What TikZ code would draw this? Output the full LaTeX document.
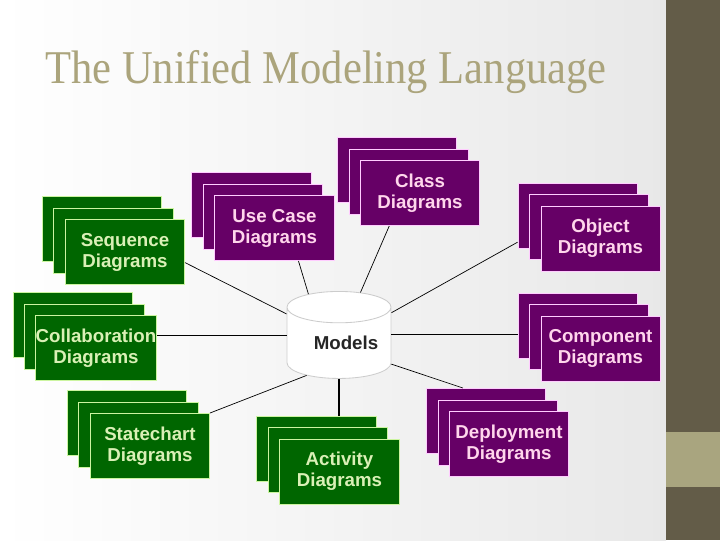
\documentclass[tikz,border=0pt]{standalone}
\usepackage{fontspec,graphicx}
\setmainfont{Liberation Serif}
\setsansfont{Liberation Sans}
\usetikzlibrary{shapes.geometric}
\definecolor{gc}{RGB}{0,102,0}
\definecolor{gl}{RGB}{204,245,160}
\definecolor{gt}{RGB}{218,240,182}
\definecolor{pc}{RGB}{102,0,102}
\definecolor{pl}{RGB}{255,204,255}
\definecolor{pt}{RGB}{255,214,236}
\definecolor{side}{RGB}{99,92,72}
\definecolor{band}{RGB}{169,165,127}
\definecolor{tc}{RGB}{171,164,124}
\tikzset{dbox/.style={draw,line width=.7pt,minimum width=2.975cm,minimum height=1.625cm,inner sep=0pt,align=center,
   font=\sffamily\bfseries\fontsize{13.3}{14.9}\selectfont},
 gbox/.style={dbox,fill=gc,draw=gl,text=gt},pbox/.style={dbox,fill=pc,draw=pl,text=pt},
 db/.style={cylinder,shape border rotate=90,aspect=.4,draw=black!20,fill=white,line width=.6pt,
   minimum width=2.6cm,minimum height=2.175cm,inner sep=0pt,font=\sffamily\bfseries\fontsize{13.3}{14.9}\selectfont,text=black!85},
 link/.style={line width=.5pt}}
\begin{document}
\begin{tikzpicture}[x=0.025cm,y=-0.025cm]
\useasboundingbox (0,0) rectangle (720,540);
\shade[left color=white,right color=black!9] (0,0) rectangle (666,540);
\fill[side] (666,0) rectangle (720,540);\fill[band] (666,432) rectangle (720,487);
\node[anchor=base west,inner sep=0pt,text=tc,font=\fontsize{33.4}{36}\selectfont] (title) at (45,83) {\scalebox{.906}[1]{The Unified Modeling Language}};
% diagram stacks
\foreach \n/\x/\y/\s/\t in {seq/125/252/gbox/{Sequence\\Diagrams},usecase/274.5/228/pbox/{Use Case\\Diagrams},
  class/420/193/pbox/{Class\\Diagrams},object/600.5/238.5/pbox/{Object\\Diagrams},collab/96/348/gbox/{Collaboration\\Diagrams},
  comp/600.5/348.5/pbox/{Component\\Diagrams},state/150/446/gbox/{Statechart\\Diagrams},act/339.5/471.5/gbox/{Activity\\Diagrams},
  dep/509/444/pbox/{Deployment\\Diagrams}}{
  \node[\s] (\n2) at (\x-23,\y-23) {};
  \node[\s] (\n1) at (\x-11.5,\y-11.5) {};
  \node[\s] (\n) at (\x,\y) {\t};}
\node[db] (models) at (339,343) {\hspace*{.35cm}Models};
\coordinate (mw) at ([yshift=.2cm]models.west);\coordinate (me) at ([yshift=.22cm]models.east);
% links to the model store
\draw[link] (seq.-10)--(models.151);\draw[link] (usecase.-54)--(models.122);
\draw[link] (class.-133)--(models.67);\draw[link] (object2.204)--(models.30);
\draw[link] (mw)--(mw-|collab.east);\draw[link] (me)--(me-|comp2.west);
\draw[link] (state.north east)--(models.-135);\draw[link] (models.-22)--(dep2.125);
\draw[line width=.9pt] (models.south)--(models.south|-act2.north);
\end{tikzpicture}
\end{document}
